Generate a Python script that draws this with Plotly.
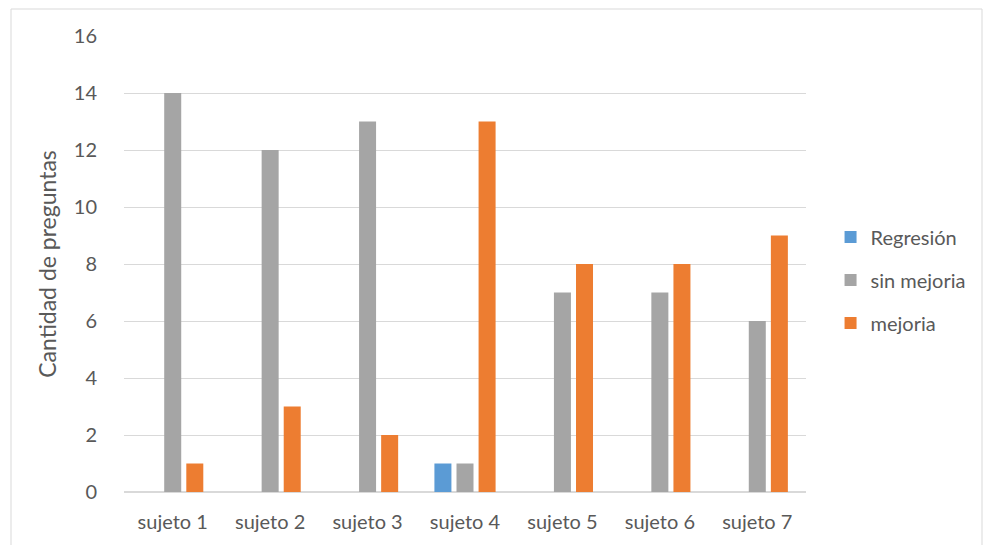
import plotly.graph_objects as go

sujetos = ["sujeto 1", "sujeto 2", "sujeto 3", "sujeto 4", "sujeto 5", "sujeto 6", "sujeto 7"]
regresion = [0, 0, 0, 1, 0, 0, 0]
sin_mejoria = [14, 12, 13, 1, 7, 7, 6]
mejoria = [1, 3, 2, 13, 8, 8, 9]

FONT = "Lato"
TXT = "#595959"
GRID = "#D9D9D9"

fig = go.Figure()
series = [
    ("Regresión", regresion, "#5B9BD5"),
    ("sin mejoria", sin_mejoria, "#A5A5A5"),
    ("mejoria", mejoria, "#ED7D31"),
]
for i, (name, vals, color) in enumerate(series):
    fig.add_trace(go.Bar(
        x=sujetos, y=vals, name=name,
        marker=dict(color=color, line=dict(width=0)),
        legendgroup=f"g{i}",
    ))

fig.update_layout(
    width=983, height=545,
    margin=dict(l=124, r=177, t=36, b=53, autoexpand=False),
    paper_bgcolor="white", plot_bgcolor="white",
    barmode="group", bargap=0.32, bargroupgap=0.23,
    font=dict(family=FONT, color=TXT, size=20),
    legend=dict(
        x=1.036, y=0.465, xanchor="left", yanchor="middle",
        font=dict(size=20, color=TXT, family=FONT),
        traceorder="grouped", tracegroupgap=14,
        bgcolor="rgba(0,0,0,0)",
    ),
    showlegend=True,
    xaxis=dict(
        showgrid=False, showline=False, zeroline=False,
        ticks="outside", ticklen=12, tickcolor="rgba(0,0,0,0)",
        tickfont=dict(size=20, color=TXT),
    ),
    yaxis=dict(
        range=[0, 16], dtick=2, tick0=0,
        showgrid=True, gridcolor=GRID, gridwidth=1,
        zeroline=True, zerolinecolor=GRID, zerolinewidth=2,
        showline=False,
        ticks="outside", ticklen=22, tickcolor="rgba(0,0,0,0)",
        tickfont=dict(size=20, color=TXT),
        title=dict(text="Cantidad de preguntas", font=dict(size=23, color=TXT), standoff=10),
    ),
    shapes=[dict(
        type="rect", xref="paper", yref="paper",
        x0=(11 - 124) / 682, x1=(982 - 124) / 682,
        y0=-0.3, y1=(492 - 9) / 456,
        line=dict(color=GRID, width=1), fillcolor="rgba(0,0,0,0)",
        layer="below",
    )],
)

fig.write_html("out.html")
